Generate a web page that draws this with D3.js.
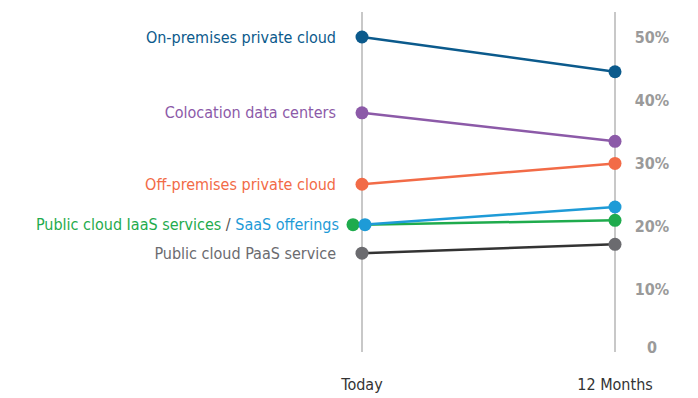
<!DOCTYPE html>
<head>
    <meta charset="utf-8">
    <title>Cloud deployment today vs 12 months</title>
    <style>
        body { margin: 0; background: #fff; }
        text { font-family: "Liberation Sans Narrow", "DejaVu Sans Condensed", "Roboto", sans-serif; }
        .axis-line { stroke: #c8c8c8; stroke-width: 2; }
        .tick-label { fill: #9a9a9a; font-weight: bold; font-size: 16px; }
        .period-label { fill: #333; font-size: 16px; }
        .series-label { font-size: 16px; }
    </style>
</head>
<body>
    <svg width="698" height="398"></svg>
    <script src="https://d3js.org/d3.v7.min.js"></script>
    <script>

        var periods = ["Today", "12 Months"];
        var seriesNames = ["On-premises private cloud", "Colocation data centers", "Off-premises private cloud",
            "Public cloud IaaS services", "SaaS offerings", "Public cloud PaaS service"];
        var todayValues = [50, 38, 26.7, 20.3, 20.3, 15.8];
        var monthValues = [44.5, 33.5, 30, 21, 23.1, 17.2];
        var colors = ["#0b5a8c", "#8c5aa8", "#f26b47", "#1fab4d", "#1e9bd7", "#6b6b6f"];
        var lineColors = ["#0b5a8c", "#8c5aa8", "#f26b47", "#1fab4d", "#1e9bd7", "#333333"];
        var tickValues = [0, 10, 20, 30, 40, 50];

        var svg = d3.select("svg");

        var x = d3.scalePoint()
            .domain(periods)
            .range([362, 615]);

        var y = d3.scaleLinear()
            .domain([0, 50])
            .range([353, 37]);

        var series = seriesNames.map(function (name, i) {
            return { name: name, i: i, values: [todayValues[i], monthValues[i]] };
        });

        // vertical guide lines
        svg.selectAll(".axis-line")
            .data(periods)
            .enter().append("line")
            .attr("class", "axis-line")
            .attr("x1", d => x(d)).attr("x2", d => x(d))
            .attr("y1", 12).attr("y2", 352);

        // right-side percent labels
        svg.selectAll(".tick-label")
            .data(tickValues)
            .enter().append("text")
            .attr("class", "tick-label")
            .attr("x", 652)
            .attr("y", d => y(d) - (d === 0 ? 6 : 0))
            .attr("dy", "0.35em")
            .attr("text-anchor", "middle")
            .text(d => d === 0 ? "0" : d + "%");

        // period labels
        svg.selectAll(".period-label")
            .data(periods)
            .enter().append("text")
            .attr("class", "period-label")
            .attr("x", d => x(d))
            .attr("y", 384)
            .attr("dy", "0.35em")
            .attr("text-anchor", "middle")
            .text(d => d);

        // the IaaS dot is nudged left today so the SaaS one stays visible
        function dx(s, j) { return (j === 0 && s.i === 3) ? -9 : (j === 0 && s.i === 4 ? 3 : 0); }

        var line = d3.line()
            .x(function (d, j) { return x(periods[j]); })
            .y(d => y(d));

        svg.selectAll(".series-line")
            .data(series)
            .enter().append("path")
            .attr("class", "series-line")
            .attr("fill", "none")
            .attr("stroke", d => lineColors[d.i])
            .attr("stroke-width", 2.5)
            .attr("d", d => line(d.values));

        series.forEach(function (s) {
            svg.selectAll(null)
                .data(s.values)
                .enter().append("circle")
                .attr("cx", (d, j) => x(periods[j]) + dx(s, j))
                .attr("cy", d => y(d))
                .attr("r", 6.5)
                .attr("fill", colors[s.i]);
        });

        // series labels, left of the Today column
        series.filter(s => s.i !== 4).forEach(function (s) {
            var t = svg.append("text")
                .attr("class", "series-label")
                .attr("x", s.i === 3 ? 339 : 336)
                .attr("y", y(s.values[0]))
                .attr("dy", "0.35em")
                .attr("text-anchor", "end");
            if (s.i === 3) {
                t.append("tspan").attr("fill", colors[3]).text(seriesNames[3]);
                t.append("tspan").attr("fill", "#555").text(" / ");
                t.append("tspan").attr("fill", colors[4]).text(seriesNames[4]);
            } else {
                t.attr("fill", colors[s.i]).text(s.name);
            }
        });
    </script>
</body>
